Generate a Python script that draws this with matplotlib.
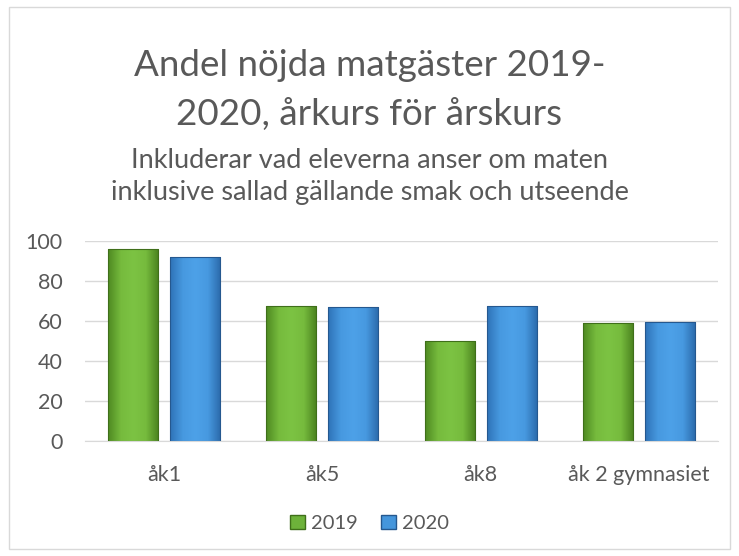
import numpy as np
import matplotlib
matplotlib.use('Agg')
import matplotlib.pyplot as plt
from matplotlib.patches import Rectangle, Patch
from matplotlib.colors import LinearSegmentedColormap

plt.rcParams['font.family'] = ['Lato', 'DejaVu Sans']

categories = ['åk1', 'åk5', 'åk8', 'åk 2 gymnasiet']
values_2019 = [96, 67.7, 50, 59]
values_2020 = [92.2, 67, 67.7, 59.5]
series = ['2019', '2020']

green_cmap = LinearSegmentedColormap.from_list('g', ['#4f8a22', '#76bb3d', '#7cc343', '#76bb3d', '#4a821f'])
blue_cmap = LinearSegmentedColormap.from_list('b', ['#2f73b8', '#4799e0', '#4da1e8', '#4799e0', '#2b6aab'])

fig = plt.figure(figsize=(7.39, 5.56), dpi=100)
fig.patches.append(Rectangle((0.012, 0.012), 0.976, 0.976, transform=fig.transFigure,
                             fill=False, edgecolor='#d9d9d9', linewidth=1))

ax = fig.add_axes([0.115, 0.2068, 0.8566, 0.3597])
x = np.arange(len(categories))
width = 0.316
offset = 0.196

grad = np.linspace(0, 1, 64).reshape(1, -1)
for vals, cmap, dx, edge in [(values_2019, green_cmap, -offset, '#3f6f1a'),
                             (values_2020, blue_cmap, offset, '#25588f')]:
    bars = ax.bar(x + dx, vals, width, color='none', edgecolor=edge, linewidth=0.8, zorder=3)
    for b in bars:
        x0, w, h = b.get_x(), b.get_width(), b.get_height()
        im = ax.imshow(grad, cmap=cmap, aspect='auto', extent=(x0, x0 + w, 0, h), zorder=2)
        im.set_clip_path(b)

ax.set_xlim(-0.5, len(categories) - 0.5)
ax.set_ylim(0, 100)
ax.set_yticks(np.arange(0, 101, 20))
ax.set_xticks(x, categories)
ax.grid(True, axis='y', color='#d9d9d9', linewidth=1, zorder=0)
ax.set_axisbelow(True)
for s in ['top', 'right', 'left']:
    ax.spines[s].set_visible(False)
ax.spines['bottom'].set_color('#d9d9d9')
ax.tick_params(axis='both', length=0, colors='#595959', labelsize=15.5)
ax.tick_params(axis='x', pad=17)
ax.tick_params(axis='y', pad=16)

fig.text(0.5, 0.838, 'Andel nöjda matgäster 2019-\n2020, årkurs för årskurs', ha='center', va='center',
         fontsize=26.5, color='#595959', linespacing=1.6)
fig.text(0.5, 0.6826, 'Inkluderar vad eleverna anser om maten\ninklusive sallad gällande smak och utseende',
         ha='center', va='center', fontsize=19.5, color='#595959', linespacing=1.38)

handles = [Patch(facecolor='#6db23a', edgecolor='#3f6f1a'), Patch(facecolor='#4596dc', edgecolor='#25588f')]
fig.legend(handles, series, loc='center', bbox_to_anchor=(0.5, 0.059), ncol=2, frameon=False,
           fontsize=14.5, labelcolor='#595959', handlelength=0.7, handleheight=0.7,
           handletextpad=0.3, columnspacing=1.2)

fig.savefig('out.png', dpi=100)
